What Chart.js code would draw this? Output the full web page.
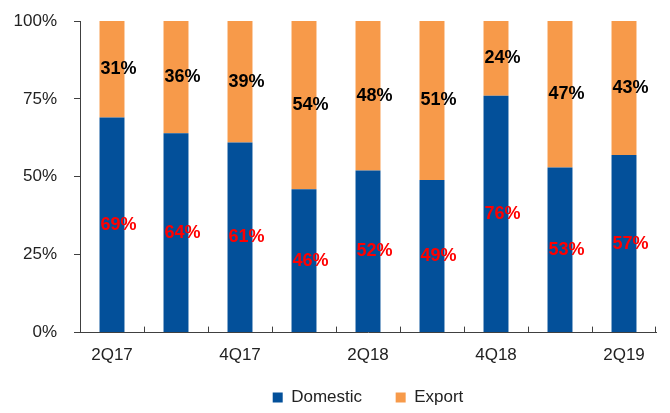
<!DOCTYPE html>
<html>
<head>
<meta charset="utf-8">
<script src="https://cdn.jsdelivr.net/npm/chart.js@4"></script>
<style>
    html, body { margin: 0; padding: 0; background: #fff; }
    #wrap { width: 670px; height: 413px; }
</style>
</head>
<body>
<div id="wrap"><canvas id="mixChart"></canvas></div>
<script>
// Quarterly sales mix
const quarters = ['2Q17', '3Q17', '4Q17', '1Q18', '2Q18', '3Q18', '4Q18', '1Q19', '2Q19'];
const domestic = [69, 64, 61, 46, 52, 49, 76, 53, 57];
const exported = [31, 36, 39, 54, 48, 51, 24, 47, 43];
const yTicks = [0, 25, 50, 75, 100];

const FONT = "'Liberation Sans', Arial, sans-serif";

// Percent labels written inside each bar segment
const segmentLabels = {
    id: 'segmentLabels',
    afterDatasetsDraw(chart) {
        const ctx = chart.ctx;
        ctx.save();
        ctx.font = 'bold 18px ' + FONT;
        ctx.textBaseline = 'middle';
        ctx.textAlign = 'left';
        chart.data.datasets.forEach((ds, di) => {
            const meta = chart.getDatasetMeta(di);
            ctx.fillStyle = ds.labelColor;
            meta.data.forEach((bar, i) => {
                const mid = (bar.y + bar.base) / 2;
                ctx.fillText(ds.data[i] + '%', bar.x - bar.width / 2 + 1, mid);
            });
        });
        ctx.restore();
    }
};

// Short tick marks between categories, pointing up from the x axis
const categoryTicks = {
    id: 'categoryTicks',
    afterDraw(chart) {
        const x = chart.scales.x;
        const bottom = chart.chartArea.bottom;
        const ctx = chart.ctx;
        ctx.save();
        ctx.strokeStyle = '#404040';
        ctx.lineWidth = 1;
        for (let i = 1; i <= quarters.length; i++) {
            const px = Math.round((x.getPixelForValue(i - 1) + x.getPixelForValue(i)) / 2) + 0.5;
            const edge = i === quarters.length ? x.right - 0.5 : px;
            ctx.beginPath();
            ctx.moveTo(edge, bottom);
            ctx.lineTo(edge, bottom - 6);
            ctx.stroke();
        }
        ctx.restore();
    }
};

function initializeChart() {
    const ctx = document.getElementById('mixChart').getContext('2d');
    new Chart(ctx, {
        type: 'bar',
        data: {
            labels: quarters,
            datasets: [
                { label: 'Domestic', data: domestic, backgroundColor: '#03509a', labelColor: '#ff0000' },
                { label: 'Export', data: exported, backgroundColor: '#f79a4a', labelColor: '#000000' }
            ]
        },
        options: {
            responsive: true,
            maintainAspectRatio: false,
            animation: false,
            categoryPercentage: 1,
            barPercentage: 0.39,
            layout: { padding: { top: 21, right: 14, left: 0, bottom: 0 } },
            plugins: {
                legend: {
                    position: 'bottom',
                    fullSize: false,
                    maxHeight: 34,
                    labels: {
                        boxWidth: 10,
                        boxHeight: 10,
                        padding: 10,
                        color: '#222',
                        font: { family: FONT, size: 17 },
                        // extra trailing space keeps the two entries apart
                        generateLabels: chart => Chart.defaults.plugins.legend.labels
                            .generateLabels(chart)
                            .map((item, i) => Object.assign(item, { text: i === 0 ? item.text + '     ' : item.text }))
                    }
                },
                tooltip: { enabled: false }
            },
            scales: {
                x: {
                    stacked: true,
                    grid: { display: false, drawTicks: false },
                    border: { display: true, color: '#404040' },
                    ticks: {
                        autoSkip: false,
                        maxRotation: 0,
                        padding: 13,
                        color: '#222',
                        font: { family: FONT, size: 17 },
                        callback: (v, i) => (i % 2 === 0 ? quarters[i] : '')
                    }
                },
                y: {
                    stacked: true,
                    min: 0,
                    max: 100,
                    afterFit: s => {
                        s.width = 80;
                        s.paddingTop = 0;
                        s.paddingBottom = 0;
                    },
                    afterBuildTicks: s => { s.ticks = yTicks.map(v => ({ value: v })); },
                    grid: { drawOnChartArea: false, tickLength: 6, color: '#404040' },
                    border: { display: true, color: '#404040' },
                    ticks: {
                        padding: 17,
                        color: '#222',
                        font: { family: FONT, size: 17 },
                        callback: v => v + '%'
                    }
                }
            }
        },
        plugins: [segmentLabels, categoryTicks]
    });
}

document.addEventListener('DOMContentLoaded', () => {
    initializeChart();
});
</script>
</body>
</html>
